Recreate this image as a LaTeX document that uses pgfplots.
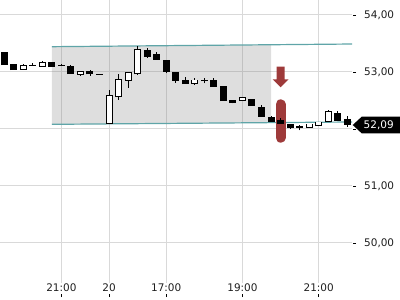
\documentclass[border=0pt]{standalone}
\usepackage{pgfplots}
\pgfplotsset{compat=1.18}
\usepackage{fontspec}
\setmainfont{DejaVu Sans}
\definecolor{tealline}{RGB}{95,165,168}
\definecolor{markred}{RGB}{158,58,58}
\definecolor{gridc}{RGB}{217,217,217}
\definecolor{txt}{RGB}{30,30,30}
\begin{document}
\begin{tikzpicture}
\begin{axis}[
  width=352bp, height=283bp, scale only axis,
  xmin=-0.441, xmax=36.496,
  ymin=49.2982, ymax=54.2632,
  clip=false,
  unbounded coords=jump,
  axis line style={draw=none},
  xtick={6,11,17,25,33},
  xticklabels={21:00,20,17:00,19:00,21:00},
  xtick pos=bottom,
  tick align=outside,
  major tick length=3bp,
  xtick style={black, line width=0.9bp, yshift=-11bp},
  xticklabel style={font=\fontsize{10.5}{12}\selectfont, text=txt, inner sep=0pt, anchor=north, yshift=2bp},
  ytick={50,51,52,53,54},
  yticklabels={{50,00},{51,00},{},{53,00},{54,00}},
  ytick pos=right,
  ytick style={black, line width=0.9bp, xshift=1bp},
  yticklabel style={font=\fontsize{10.5}{12}\selectfont, text=txt, anchor=west, inner sep=0pt, xshift=9bp},
  grid=major,
  major grid style={gridc, line width=1bp},
]
% shaded channel
\addplot[fill=gray, fill opacity=0.26, draw=none] coordinates {(5,53.444) (28,53.478) (28,52.112) (5,52.082)};
\addplot[tealline, line width=1.2bp] coordinates {(5,53.444) (36.496,53.491)};
\addplot[tealline, line width=1.2bp] coordinates {(5,52.082) (36.496,52.123)};
% red marker bar and arrow
\draw[markred, line width=10bp, line cap=round] (axis cs:29,52.433) -- (axis cs:29,51.847);
\fill[markred] ([xshift=-4bp]axis cs:29,53.093) -- ([xshift=4bp]axis cs:29,53.093) -- ([xshift=4bp]axis cs:29,52.872) -- ([xshift=8bp]axis cs:29,52.872) -- (axis cs:29,52.732) -- ([xshift=-8bp]axis cs:29,52.872) -- ([xshift=-4bp]axis cs:29,52.872) -- cycle;
% wicks: (i,low) (i,high)
\addplot[black, line width=0.9bp] coordinates {
(0,53.13)(0,53.35)(0,nan) (1,53.04)(1,53.14)(1,nan) (2,53.047)(2,53.146)(2,nan)
(3,53.11)(3,53.15)(3,nan) (4,53.10)(4,53.19)(4,nan) (5,53.093)(5,53.175)(5,nan)
(6,53.11)(6,53.145)(6,nan) (7,52.97)(7,53.128)(7,nan) (8,52.935)(8,53.005)(8,nan)
(9,52.935)(9,53.035)(9,nan) (10,52.965)(10,52.965)(10,nan) (11,52.10)(11,52.684)(11,nan)
(12,52.509)(12,52.96)(12,nan) (13,52.725)(13,52.995)(13,nan) (14,52.953)(14,53.456)(14,nan)
(15,53.25)(15,53.42)(15,nan) (16,53.22)(16,53.345)(16,nan) (17,52.977)(17,53.21)(17,nan)
(18,52.81)(18,52.995)(18,nan) (19,52.795)(19,52.907)(19,nan) (20,52.777)(20,52.895)(20,nan)
(21,52.80)(21,52.895)(21,nan) (22,52.742)(22,52.90)(22,nan) (23,52.497)(23,52.754)(23,nan)
(24,52.45)(24,52.51)(24,nan) (25,52.497)(25,52.56)(25,nan) (26,52.41)(26,52.52)(26,nan)
(27,52.22)(27,52.42)(27,nan) (28,52.128)(28,52.233)(28,nan) (29,52.093)(29,52.193)(29,nan)
(30,52.005)(30,52.083)(30,nan) (31,51.977)(31,52.065)(31,nan) (32,52.03)(32,52.088)(32,nan)
(33,52.058)(33,52.123)(33,nan) (34,52.135)(34,52.33)(34,nan) (35,52.153)(35,52.31)(35,nan)
(36,52.04)(36,52.228)
};
% bodies, outline: (i,min(open,close)) (i,max(open,close)), widened by the border
\addplot[black, line width=7bp] coordinates {
(0,53.122)(0,53.358)(0,nan) (1,53.032)(1,53.148)(1,nan) (2,53.039)(2,53.118)(2,nan)
(3,53.102)(3,53.118)(3,nan) (4,53.092)(4,53.168)(4,nan) (5,53.085)(5,53.168)(5,nan)
(6,53.102)(6,53.118)(6,nan) (7,52.962)(7,53.113)(7,nan) (8,52.952)(8,53.013)(8,nan)
(9,52.957)(9,53.026)(9,nan) (10,52.957)(10,52.973)(10,nan) (11,52.092)(11,52.604)(11,nan)
(12,52.559)(12,52.880)(12,nan) (13,52.846)(13,53.003)(13,nan) (14,52.962)(14,53.408)(14,nan)
(15,53.267)(15,53.388)(15,nan) (16,53.212)(16,53.308)(16,nan) (17,53.002)(17,53.218)(17,nan)
(18,52.846)(18,53.003)(18,nan) (19,52.787)(19,52.868)(19,nan) (20,52.787)(20,52.868)(20,nan)
(21,52.840)(21,52.856)(21,nan) (22,52.734)(22,52.868)(22,nan) (23,52.489)(23,52.762)(23,nan)
(24,52.452)(24,52.511)(24,nan) (25,52.489)(25,52.558)(25,nan) (26,52.402)(26,52.528)(26,nan)
(27,52.212)(27,52.394)(27,nan) (28,52.120)(28,52.218)(28,nan) (29,52.085)(29,52.166)(29,nan)
(30,52.015)(30,52.091)(30,nan) (31,52.022)(31,52.061)(31,nan) (32,52.022)(32,52.096)(32,nan)
(33,52.050)(33,52.131)(33,nan) (34,52.127)(34,52.308)(34,nan) (35,52.145)(35,52.288)(35,nan)
(36,52.072)(36,52.178)
};
% hollow interiors of the rising candles
\addplot[white, line width=5bp] coordinates {
(2,53.056)(2,53.101)(2,nan) (4,53.109)(4,53.151)(4,nan) (8,52.969)(8,52.996)(8,nan)
(11,52.109)(11,52.587)(11,nan) (12,52.576)(12,52.863)(12,nan) (13,52.863)(13,52.986)(13,nan)
(14,52.979)(14,53.391)(14,nan) (20,52.804)(20,52.851)(20,nan) (25,52.506)(25,52.541)(25,nan)
(32,52.039)(32,52.079)(32,nan) (33,52.067)(33,52.114)(33,nan) (34,52.144)(34,52.291)
};
% last price tag
\coordinate (tip) at ([xshift=0.7bp]axis cs:36.496,52.07);
\fill[black] (tip) -- ++(9bp,8.3bp) -- ++(38.3bp,0bp) -- ++(0bp,-16.6bp) -- ++(-38.3bp,0bp) -- cycle;
\node[text=white, font=\fontsize{10.5}{12}\selectfont, inner sep=0pt] at ([xshift=26bp]tip) {52,09};
\coordinate (sw) at (rel axis cs:0,0);
\end{axis}
\pgfresetboundingbox
\useasboundingbox ([yshift=-17bp]sw) rectangle ([xshift=400bp,yshift=283bp]sw);
\end{tikzpicture}
\end{document}
